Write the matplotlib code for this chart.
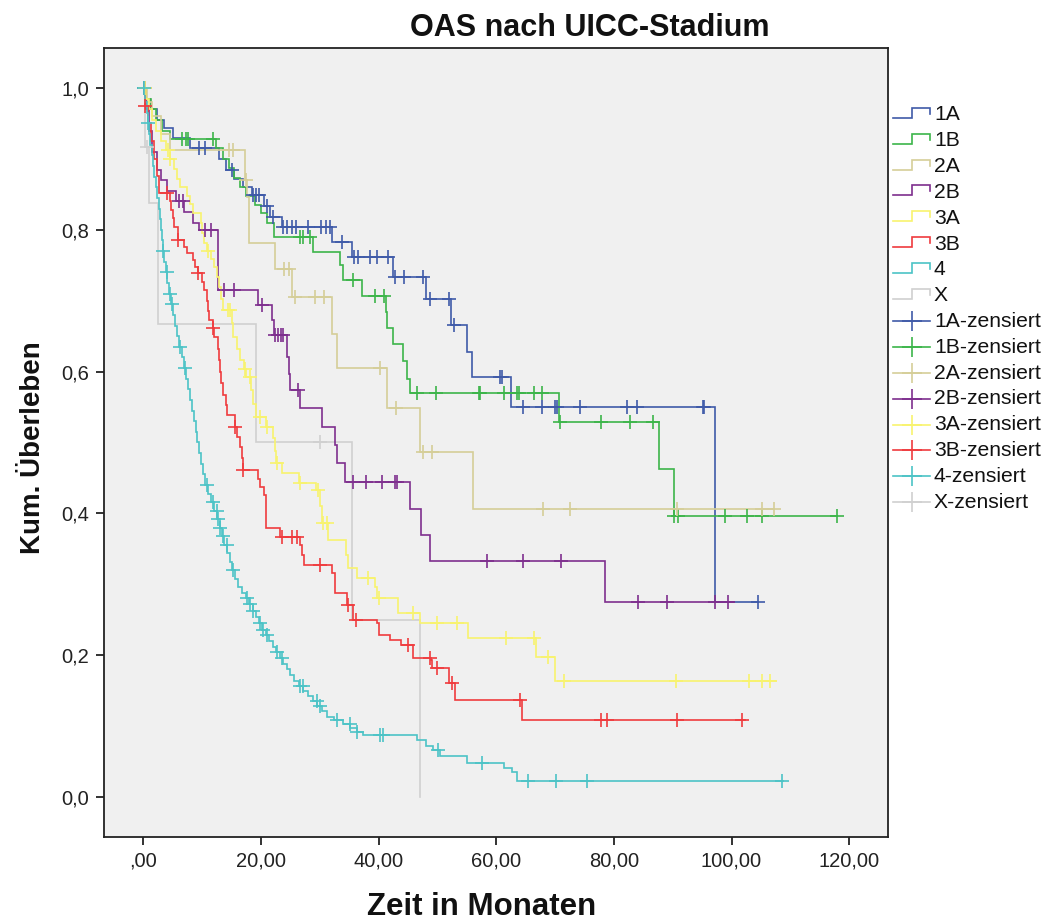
import numpy as np
import matplotlib
matplotlib.use('Agg')
import matplotlib.pyplot as plt

plt.rcParams['font.family'] = ['Liberation Sans', 'DejaVu Sans']

# ---------------- data ----------------
groups = ['1A', '1B', '2A', '2B', '3A', '3B', '4', 'X']
colors = ['#3F5AA8', '#3CB54A', '#D5CE98', '#7E2F8E', '#F8F36E', '#EF3B3E', '#4CC3C6', '#D0D0D0']

t_1A = [0.5, 1.2, 2.3, 3.5, 5.0, 8.0, 12.8, 14.0, 15.5, 17.0, 18.5, 20.5, 21.5, 23.5, 32.0, 35.5,
        42.5, 48.0, 52.3, 55.0, 55.8, 62.5, 97.2]
s_1A = [0.985, 0.97, 0.955, 0.943, 0.93, 0.915, 0.90, 0.885, 0.872, 0.86, 0.849, 0.833, 0.818, 0.804,
        0.783, 0.762, 0.733, 0.702, 0.666, 0.628, 0.592, 0.55, 0.275]
c_1A = [0.2, 9.5, 10.5, 15.0, 18.7, 19.2, 19.6, 21.0, 22.0, 23.8, 24.5, 25.2, 26.0, 28.0, 30.2, 31.0,
        31.8, 33.8, 35.8, 36.5, 38.5, 39.7, 41.6, 42.8, 44.3, 47.5, 48.7, 52.0, 52.8, 60.6, 61.0,
        64.5, 67.8, 70.0, 70.3, 74.2, 82.2, 83.9, 95.2, 95.4, 104.5]
end_1A = 104.5

t_1B = [0.5, 1.3, 2.2, 3.2, 4.5, 12.3, 13.5, 14.5, 15.5, 16.5, 17.5, 19.0, 20.0, 21.0, 22.3, 28.8,
        33.5, 34.0, 37.2, 41.2, 41.5, 42.5, 44.1, 44.8, 45.3, 70.7, 87.7, 90.2]
s_1B = [0.985, 0.97, 0.955, 0.94, 0.928, 0.915, 0.90, 0.887, 0.873, 0.86, 0.847, 0.835, 0.823, 0.81,
        0.79, 0.769, 0.75, 0.729, 0.707, 0.684, 0.661, 0.639, 0.615, 0.59, 0.57, 0.529, 0.463, 0.396]
c_1B = [0.3, 6.6, 7.2, 7.6, 11.9, 26.6, 27.2, 28.4, 35.6, 39.4, 41.0, 46.5, 49.8, 57.0, 57.2, 61.3,
        63.5, 63.8, 66.4, 67.8, 70.9, 77.8, 82.7, 86.6, 90.3, 90.9, 98.9, 102.6, 105.2, 118.0]
end_1B = 118.0

t_2A = [0.6, 1.5, 3.0, 4.5, 17.3, 17.6, 18.0, 22.4, 25.3, 32.0, 33.0, 41.5, 47.0, 56.0]
s_2A = [0.98, 0.96, 0.935, 0.913, 0.87, 0.846, 0.782, 0.745, 0.705, 0.653, 0.605, 0.549, 0.487, 0.406]
c_2A = [0.3, 14.5, 15.3, 17.45, 24.0, 24.8, 25.8, 29.2, 30.8, 40.2, 43.0, 47.6, 49.0, 68.0, 72.5,
        90.7, 105.2, 107.3]
end_2A = 107.3

t_2B = [0.5, 1.0, 1.5, 2.3, 3.0, 4.0, 5.5, 7.0, 8.5, 9.5, 12.7, 19.5, 21.9, 22.3, 24.5, 24.8, 25.0,
        26.6, 30.4, 32.6, 33.0, 34.3, 45.4, 47.2, 48.8, 78.5]
s_2B = [0.97, 0.94, 0.91, 0.885, 0.87, 0.855, 0.84, 0.825, 0.81, 0.80, 0.715, 0.694, 0.673, 0.652,
        0.62, 0.597, 0.574, 0.549, 0.522, 0.496, 0.471, 0.444, 0.406, 0.37, 0.333, 0.275]
c_2B = [0.3, 6.0, 6.8, 10.5, 11.5, 13.8, 15.5, 20.2, 22.4, 22.9, 23.4, 23.8, 26.3, 35.6, 37.8, 40.6,
        42.8, 43.1, 58.4, 64.5, 71.0, 84.1, 89.0, 97.2, 99.4]
end_2B = 100.5

t_3A = [0.5, 1.0, 1.5, 2.2, 3.0, 3.8, 4.5, 5.2, 5.8, 6.3, 7.5, 8.0, 8.5, 9.8, 10.0, 10.3, 10.8, 11.5,
        12.0, 12.5, 12.8, 13.2, 13.5, 15.0, 15.3, 16.0, 16.4, 17.2, 17.4, 18.3, 18.7, 19.2, 20.8, 22.0,
        22.4, 22.6, 23.6, 26.5, 29.4, 30.0, 30.4, 31.4, 34.5, 34.8, 36.3, 39.4, 39.8, 43.3, 47.0, 55.2,
        66.8, 70.0]
s_3A = [0.985, 0.97, 0.955, 0.94, 0.925, 0.913, 0.90, 0.886, 0.872, 0.86, 0.848, 0.836, 0.824, 0.81,
        0.795, 0.782, 0.77, 0.759, 0.748, 0.734, 0.72, 0.703, 0.687, 0.668, 0.649, 0.632, 0.616, 0.604,
        0.592, 0.574, 0.555, 0.536, 0.522, 0.506, 0.488, 0.471, 0.457, 0.443, 0.433, 0.41, 0.386,
        0.362, 0.342, 0.323, 0.309, 0.296, 0.281, 0.26, 0.245, 0.224, 0.198, 0.164]
c_3A = [0.3, 4.2, 4.6, 11.0, 14.4, 14.8, 17.3, 18.1, 19.8, 21.0, 22.8, 26.7, 29.7, 30.6, 31.2, 38.2,
        40.0, 45.9, 49.9, 53.3, 61.7, 66.4, 68.8, 71.5, 90.5, 102.9, 105.2, 106.5]
end_3A = 107.5

t_3B = [0.3, 0.8, 1.3, 1.8, 2.4, 2.6, 4.5, 4.7, 5.1, 5.3, 5.9, 7.0, 7.5, 8.5, 8.8, 9.3, 10.0, 10.3,
        10.8, 11.0, 11.2, 11.8, 12.0, 12.7, 12.9, 13.1, 13.2, 13.6, 14.0, 14.3, 15.6, 16.0, 16.5, 16.7,
        17.0, 19.5, 19.8, 20.6, 20.8, 20.9, 23.3, 26.6, 27.0, 27.3, 32.0, 32.6, 34.6, 35.6, 39.7, 40.0,
        42.0, 43.8, 45.8, 48.9, 49.1, 52.0, 53.0, 64.4]
s_3B = [0.975, 0.95, 0.925, 0.90, 0.876, 0.852, 0.84, 0.828, 0.816, 0.804, 0.786, 0.776, 0.767, 0.757,
        0.748, 0.739, 0.727, 0.715, 0.70, 0.686, 0.673, 0.661, 0.649, 0.632, 0.616, 0.60, 0.584, 0.567,
        0.553, 0.539, 0.522, 0.508, 0.494, 0.478, 0.461, 0.449, 0.437, 0.426, 0.402, 0.379, 0.367,
        0.355, 0.341, 0.327, 0.316, 0.288, 0.271, 0.25, 0.245, 0.228, 0.221, 0.214, 0.196, 0.193,
        0.182, 0.161, 0.137, 0.109]
c_3B = [0.3, 4.0, 5.9, 9.3, 11.8, 15.6, 17.0, 23.6, 25.3, 26.2, 30.0, 34.8, 36.2, 45.0, 48.7, 50.0,
        52.5, 64.0, 77.8, 78.8, 90.7, 101.8]
end_3B = 102.3

t_4 = [0.3, 0.6, 0.8, 1.0, 1.2, 1.4, 1.7, 1.9, 2.2, 2.4, 2.6, 2.8, 3.0, 3.2, 3.4, 3.6, 3.9, 4.1, 4.4,
       4.7, 5.1, 5.4, 5.8, 6.1, 6.5, 6.9, 7.3, 7.6, 8.0, 8.3, 8.6, 8.9, 9.2, 9.5, 9.8, 10.1, 10.5,
       11.0, 11.5, 12.1, 12.6, 13.0, 13.4, 13.8, 14.3, 14.7, 15.1, 15.6, 16.1, 16.8, 17.4, 18.0, 18.6,
       19.1, 19.6, 20.2, 20.8, 21.4, 22.0, 22.6, 23.2, 23.8, 24.4, 25.0, 25.7, 26.4, 27.2, 28.0, 28.8,
       29.6, 30.4, 31.3, 32.5, 34.0, 35.2, 36.3, 37.4, 46.5, 48.0, 49.3, 50.5, 55.1, 61.4, 62.6, 63.6]
s_4 = [0.98, 0.965, 0.95, 0.935, 0.92, 0.905, 0.89, 0.875, 0.86, 0.845, 0.83, 0.815, 0.80, 0.785,
       0.77, 0.755, 0.74, 0.725, 0.71, 0.695, 0.68, 0.665, 0.65, 0.635, 0.62, 0.605, 0.59, 0.575, 0.56,
       0.545, 0.53, 0.515, 0.50, 0.485, 0.47, 0.455, 0.44, 0.428, 0.416, 0.404, 0.392, 0.38, 0.368,
       0.356, 0.344, 0.332, 0.32, 0.308, 0.296, 0.288, 0.28, 0.272, 0.262, 0.254, 0.245, 0.236, 0.228,
       0.22, 0.212, 0.204, 0.196, 0.188, 0.18, 0.172, 0.164, 0.156, 0.149, 0.142, 0.135, 0.128, 0.121,
       0.113, 0.108, 0.103, 0.097, 0.092, 0.087, 0.08, 0.072, 0.066, 0.058, 0.048, 0.041, 0.035, 0.023]
c_4 = [0.1, 0.8, 3.4, 4.0, 4.6, 4.9, 6.2, 7.1, 10.8, 11.8, 12.5, 12.7, 13.0, 13.5, 14.2, 15.2, 17.6,
       18.1, 18.6, 19.8, 20.3, 21.0, 22.7, 23.6, 26.6, 27.1, 29.5, 30.0, 32.9, 35.1, 36.3, 40.2, 40.7,
       50.1, 57.6, 65.4, 70.1, 75.4, 108.6]
end_4 = 108.7

t_X = [0.3, 1.0, 2.5, 19.2, 35.5, 47.0]
s_X = [0.917, 0.838, 0.667, 0.5, 0.25, 0.0]
c_X = [0.6, 30.0]
end_X = 47.0

x_ticks = [0, 20, 40, 60, 80, 100, 120]
x_ticklabels = [',00', '20,00', '40,00', '60,00', '80,00', '100,00', '120,00']
y_ticks = [0.0, 0.2, 0.4, 0.6, 0.8, 1.0]
y_ticklabels = ['0,0', '0,2', '0,4', '0,6', '0,8', '1,0']

title = 'OAS nach UICC-Stadium'
xlabel = 'Zeit in Monaten'
ylabel = 'Kum. Überleben'

series = {
    '1A': (t_1A, s_1A, c_1A, end_1A),
    '1B': (t_1B, s_1B, c_1B, end_1B),
    '2A': (t_2A, s_2A, c_2A, end_2A),
    '2B': (t_2B, s_2B, c_2B, end_2B),
    '3A': (t_3A, s_3A, c_3A, end_3A),
    '3B': (t_3B, s_3B, c_3B, end_3B),
    '4': (t_4, s_4, c_4, end_4),
    'X': (t_X, s_X, c_X, end_X),
}

# ---------------- figure ----------------
W, H = 1048, 922
fig = plt.figure(figsize=(W / 100, H / 100), dpi=100)
fig.patch.set_facecolor('white')

L, R, T, B = 104, 888, 48, 837
ax = fig.add_axes([L / W, 1 - B / H, (R - L) / W, (B - T) / H])
ax.set_facecolor('#F0F0F0')
ax.set_xlim(-6.68, 126.6)
ax.set_ylim(-0.0564, 1.0564)

lw = 1.2
order = ['X', '1A', '1B', '2A', '2B', '3A', '3B', '4']
for g in order:
    t, s, c, e = series[g]
    col = colors[groups.index(g)]
    xs = [0.0] + list(t) + [e]
    ys = [1.0] + list(s) + [s[-1]]
    ax.plot(xs, ys, drawstyle='steps-post', color=col, lw=lw, zorder=2, solid_joinstyle='miter')

for g in order:
    t, s, c, e = series[g]
    col = colors[groups.index(g)]
    levels = np.array([1.0] + list(s))
    idx = np.searchsorted(np.array(t), np.array(c), side='right')
    ax.plot(c, levels[idx], ls='none', marker='+', ms=10, mew=1.2, color=col, zorder=3)

ax.set_xticks(x_ticks)
ax.set_xticklabels(x_ticklabels)
ax.set_yticks(y_ticks)
ax.set_yticklabels(y_ticklabels)
ax.tick_params(direction='out', length=5.5, width=1.3, labelsize=14.5, colors='#222222', pad=5)
for sp in ax.spines.values():
    sp.set_linewidth(1.3)
    sp.set_color('#222222')

fig.text(590 / W, 1 - 28 / H, title, ha='center', va='center', fontsize=22, fontweight='bold',
         color='#111111')
fig.text(482 / W, 1 - 907 / H, xlabel, ha='center', va='center', fontsize=22.5, fontweight='bold',
         color='#111111')
fig.text(33 / W, 1 - 448 / H, ylabel, ha='center', va='center', rotation=90, fontsize=20,
         fontweight='bold', color='#111111')

# ---------------- legend (drawn manually in pixel space) ----------------
lax = fig.add_axes([0, 0, 1, 1], facecolor='none')
lax.set_xlim(0, W)
lax.set_ylim(H, 0)
lax.axis('off')

y0, dy = 115, 25.8
x_a, x_m, x_b, x_txt = 893, 912, 930, 934
labels = groups + [g + '-zensiert' for g in groups]
for i, lab in enumerate(labels):
    yc = y0 + i * dy
    col = colors[i % 8]
    if i < 8:
        lax.plot([x_a, x_m, x_m, x_b, x_b], [yc + 3, yc + 3, yc - 7, yc - 7, yc - 1],
                 color=col, lw=lw, solid_joinstyle='miter')
    else:
        lax.plot([x_a, x_b], [yc, yc], color=col, lw=lw)
        lax.plot([x_m], [yc], marker='+', ms=14, mew=1.2, color=col)
    lax.text(x_txt, yc, lab, ha='left', va='center', fontsize=15.2, color='#111111')

fig.savefig('out.png', dpi=100, facecolor='white')
